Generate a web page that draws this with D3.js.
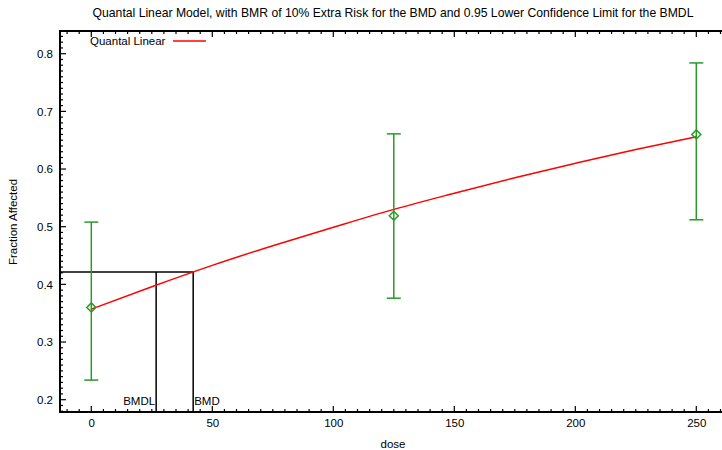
<!DOCTYPE html>
<html>
    <head>
        <script src="https://cdn.jsdelivr.net/npm/d3@7"></script>
    </head>
    <style>
        body { margin: 0; background: #fff; }
        text { font-family: 'Liberation Sans', Arial, sans-serif; font-size: 11.5px; fill: #000; }
    </style>
    <body>
        <div id="canvas"></div>
        <script>
            // observed groups
            var doses = [0, 125, 250];
            var fracObs = [0.36, 0.519, 0.66];
            var ciLow = [0.234, 0.376, 0.512];
            var ciHigh = [0.508, 0.661, 0.784];

            // fitted curve
            var curveDose = [0, 25, 50, 75, 100, 125, 150, 175, 200, 225, 250];
            var curveFrac = [0.357, 0.396, 0.433, 0.467, 0.499, 0.530, 0.558, 0.585, 0.610, 0.634, 0.656];

            var bmdl = 26.8;
            var bmd = 42.1;
            var bmrFrac = 0.4214;

            var xTicks = [0, 50, 100, 150, 200, 250];
            var yTicks = [0.2, 0.3, 0.4, 0.5, 0.6, 0.7, 0.8];

            const w = 722;
            const h = 450;
            const pLeft = 60, pRight = 727, pTop = 31, pBottom = 412;

            const svg = d3.select('#canvas')
                .append('svg')
                .attr('width', w)
                .attr('height', h);

            // scales set from the tick positions in the picture
            const x = d3.scaleLinear().domain([0, 250]).range([91.3, 696.3]);
            x.domain([x.invert(pLeft), x.invert(pRight)]).range([pLeft, pRight]);
            const y = d3.scaleLinear().domain([0.2, 0.8]).range([399.7, 53.7]);
            y.domain([y.invert(pBottom), y.invert(pTop)]).range([pBottom, pTop]);

            var xMinor = d3.range(-10, 261, 5).filter(d => d % 50 != 0);
            var yMinor = d3.range(18, 84, 1).map(d => d / 100).filter(d => Math.round(d * 100) % 10 != 0);

            // frame
            svg.append('rect')
                .attr('x', pLeft).attr('y', pTop)
                .attr('width', pRight - pLeft).attr('height', pBottom - pTop)
                .attr('fill', 'none')
                .attr('stroke', '#000')
                .attr('stroke-width', 2);

            // tick labels from d3 axes
            var labels = function(axis, tx, ty) {
                let g = svg.append('g')
                    .attr('transform', `translate(${tx},${ty})`)
                    .call(axis);
                g.select('.domain').remove();
                g.selectAll('.tick line').remove();
                g.selectAll('.tick text').attr('font-family', null).attr('font-size', null);
                return g;
            };
            labels(d3.axisBottom(x).tickValues(xTicks).tickSize(0).tickPadding(7).tickFormat(d3.format('d')), 0, pBottom)
                .selectAll('text').attr('dy', '0.71em');
            labels(d3.axisLeft(y).tickValues(yTicks).tickSize(0).tickPadding(7).tickFormat(d3.format('.1f')), pLeft, 0);

            // inward tick marks on the frame
            var tickG = svg.append('g').attr('stroke', '#000').attr('stroke-width', 1.2);
            var xTickMarks = function(vals, len, yEdge, dir) {
                tickG.append('g').selectAll('line')
                    .data(vals)
                    .join('line')
                    .attr('x1', d => x(d)).attr('x2', d => x(d))
                    .attr('y1', yEdge).attr('y2', yEdge + dir * len);
            };
            var yTickMarks = function(vals, len, xEdge, dir) {
                tickG.append('g').selectAll('line')
                    .data(vals)
                    .join('line')
                    .attr('y1', d => y(d)).attr('y2', d => y(d))
                    .attr('x1', xEdge).attr('x2', xEdge + dir * len);
            };
            xTickMarks(xTicks, 6, pBottom, -1);
            xTickMarks(xTicks, 6, pTop, 1);
            xTickMarks(xMinor, 3, pBottom, -1);
            xTickMarks(xMinor, 3, pTop, 1);
            yTickMarks(yTicks, 6, pLeft, 1);
            yTickMarks(yMinor, 3, pLeft, 1);

            // BMD / BMDL guide lines
            svg.append('line')
                .attr('x1', pLeft).attr('x2', x(bmd))
                .attr('y1', y(bmrFrac)).attr('y2', y(bmrFrac))
                .attr('stroke', '#000').attr('stroke-width', 1.5);
            [bmdl, bmd].forEach(function(v) {
                svg.append('line')
                    .attr('x1', x(v)).attr('x2', x(v))
                    .attr('y1', y(bmrFrac)).attr('y2', pBottom)
                    .attr('stroke', '#000').attr('stroke-width', 1.5);
            });
            svg.append('text')
                .attr('x', x(bmdl) - 1).attr('y', 405)
                .attr('text-anchor', 'end')
                .text('BMDL');
            svg.append('text')
                .attr('x', x(bmd) + 1).attr('y', 405)
                .text('BMD');

            // fitted curve
            var line = d3.line()
                .x((d, i) => x(curveDose[i]))
                .y(d => y(d))
                .curve(d3.curveMonotoneX);
            svg.append('path')
                .datum(curveFrac)
                .attr('d', line)
                .attr('fill', 'none')
                .attr('stroke', '#ff0000')
                .attr('stroke-width', 1.5);

            // error bars
            var green = '#2a9a2a';
            doses.forEach(function(d, i) {
                let cx = x(d);
                let g = svg.append('g')
                    .attr('stroke', green)
                    .attr('stroke-width', 1.5)
                    .attr('fill', 'none');
                g.append('line').attr('x1', cx).attr('x2', cx).attr('y1', y(ciLow[i])).attr('y2', y(ciHigh[i]));
                g.append('line').attr('x1', cx - 7).attr('x2', cx + 7).attr('y1', y(ciLow[i])).attr('y2', y(ciLow[i]));
                g.append('line').attr('x1', cx - 7).attr('x2', cx + 7).attr('y1', y(ciHigh[i])).attr('y2', y(ciHigh[i]));
                let cy = y(fracObs[i]);
                g.append('path')
                    .attr('d', `M${cx - 4.5},${cy} L${cx},${cy - 4.5} L${cx + 4.5},${cy} L${cx},${cy + 4.5} Z`);
            });

            // legend
            svg.append('text')
                .attr('x', 90).attr('y', 45)
                .text('Quantal Linear');
            svg.append('line')
                .attr('x1', 173).attr('x2', 206)
                .attr('y1', 41).attr('y2', 41)
                .attr('stroke', '#ff0000').attr('stroke-width', 1.5);

            // titles
            svg.append('text')
                .attr('x', 393).attr('y', 17)
                .attr('text-anchor', 'middle')
                .style('font-size', '12.2px')
                .text('Quantal Linear Model, with BMR of 10% Extra Risk for the BMD and 0.95 Lower Confidence Limit for the BMDL');
            svg.append('text')
                .attr('x', 393).attr('y', 448)
                .attr('text-anchor', 'middle')
                .text('dose');
            svg.append('text')
                .attr('transform', 'translate(17,222) rotate(-90)')
                .attr('text-anchor', 'middle')
                .text('Fraction Affected');
        </script>
    </body>
</html>
